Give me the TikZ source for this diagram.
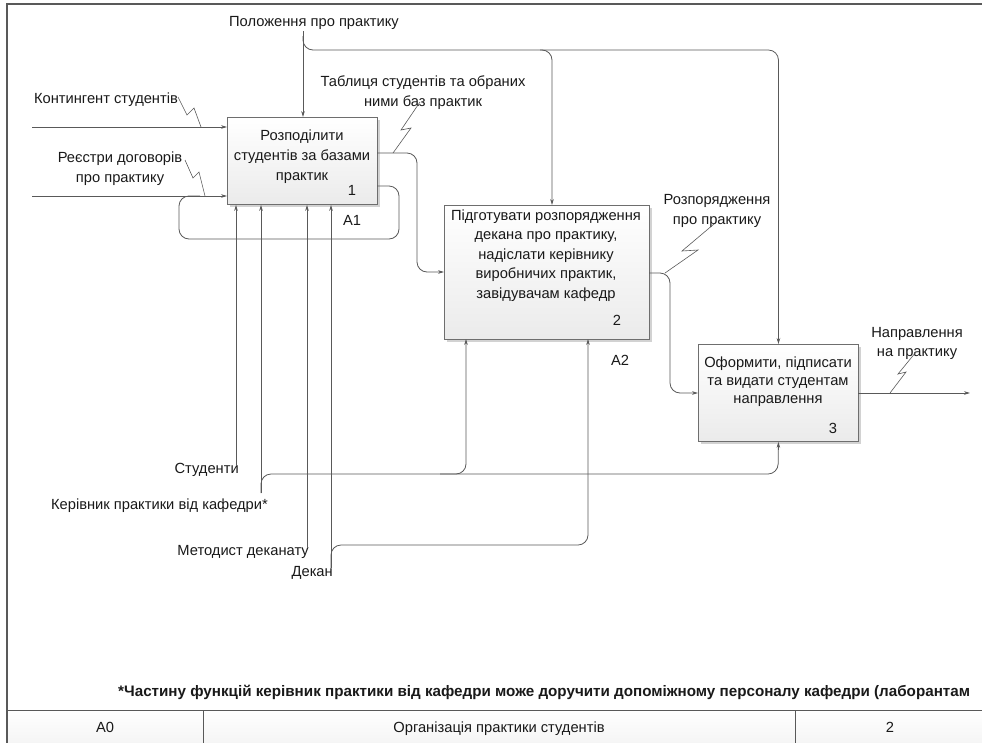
\documentclass[tikz,border=0pt]{standalone}
\usepackage{fontspec}
\setmainfont{Liberation Sans}
\usetikzlibrary{arrows.meta,shadows}
\definecolor{ln}{HTML}{595959}
\definecolor{bx}{HTML}{6E6E6E}
\tikzset{
  conn/.style={draw=ln, line width=0.8pt},
  arr/.style={conn, -{Stealth[length=6pt,width=3.6pt]}},
  proc/.style={draw=bx, line width=0.9pt, anchor=north west, inner sep=0pt,
     top color=white, bottom color=gray!16,
     drop shadow={shadow xshift=2.5pt, shadow yshift=-2.5pt, fill=gray!35, opacity=1}},
  txt/.style={inner sep=0pt, font=\fontsize{14.7}{20}\selectfont, align=center, text=black!90},
  rnd/.style={rounded corners=10pt},
}
\begin{document}
\begin{tikzpicture}[x=1pt,y=-1pt]
\useasboundingbox (0,0) rectangle (982,742);
\begin{scope}
\clip (0,0) rectangle (982,742);
% frame and title block
\shade[top color=white, bottom color=gray!12] (7,710) rectangle (1010,760);
\draw[draw=gray!70!black, line width=1.2pt] (7,4) rectangle (1010,760);
\draw[draw=ln, line width=1pt] (7,710) -- (1010,710);
\draw[draw=ln, line width=1pt] (203,710) -- (203,760);
\draw[draw=ln, line width=1pt] (795,710) -- (795,760);
\node[txt, anchor=west, font=\fontsize{15.2}{18}\selectfont\bfseries] (note) at (118,692)
  {*Частину функцій керівник практики від кафедри може доручити допоміжному персоналу кафедри (лаборантам};
\node[txt, anchor=base] (tA0) at (105,732) {A0};
\node[txt, anchor=base] (tname) at (499,732) {Організація практики студентів};
\node[txt, anchor=base] (tnum) at (890,732) {2};
\end{scope}

% activity boxes
\node[proc, minimum width=150pt, minimum height=87pt] (box1) at (227,117) {};
\node[proc, minimum width=205pt, minimum height=134pt] (box2) at (444,205) {};
\node[proc, minimum width=160pt, minimum height=97pt] (box3) at (698,344) {};

\node[txt, anchor=north] (b1t) at (302,129.5) {Розподілити\\студентів за базами\\практик};
\node[txt, anchor=north, font=\fontsize{14.7}{19.5}\selectfont] (b2t) at (546,209.5) {Підготувати розпорядження\\декана про практику,\\надіслати керівнику\\виробничих практик,\\завідувачам кафедр};
\node[txt, anchor=north, font=\fontsize{14.7}{18}\selectfont] (b3t) at (778,356.5) {Оформити, підписати\\та видати студентам\\направлення};
\node[txt] (n1) at (352,190) {1};
\node[txt] (n2) at (617,320) {2};
\node[txt] (n3) at (833,428) {3};
\node[txt] (a1) at (352,220) {A1};
\node[txt] (a2) at (620,360) {A2};

% labels
\node[txt] (lpol) at (314,23) {Положення про практику};
\node[txt] (lkon) at (106,100) {Контингент студентів};
\node[txt, anchor=north] (lreg) at (120,151.5) {Реєстри договорів\\про практику};
\node[txt, anchor=north] (ltab) at (423,75.5) {Таблиця студентів та обраних\\ними баз практик};
\node[txt, anchor=north] (lroz) at (717,194.5) {Розпорядження\\про практику};
\node[txt, anchor=north, font=\fontsize{14.7}{19}\selectfont] (lnap) at (917,327.5) {Направлення\\на практику};
\node[txt, anchor=east] (lstud) at (239,470) {Студенти};
\node[txt, anchor=east] (lker) at (268,506) {Керівник практики від кафедри*};
\node[txt, anchor=east] (lmet) at (309,552) {Методист деканату};
\node[txt, anchor=east] (ldek) at (333,573) {Декан};

% coordinates
\coordinate (pol) at (303,31);
\coordinate (polb) at (303,36);
\coordinate (in1) at (32,127);
\coordinate (in2) at (32,196);
\coordinate (lp) at (377,186);
\coordinate (o1) at (377,153);
\coordinate (i2) at (444,272);
\coordinate (o2) at (649,273);
\coordinate (i3) at (698,393);
\coordinate (o3) at (858,393);
\coordinate (out3) at (970,393);
\coordinate (stud) at (236,465);
\coordinate (ker) at (261,493);
\coordinate (met) at (307,548);
\coordinate (dek) at (331,568);

% controls from top
\draw[arr] (pol) -- (pol |- box1.north);
\draw[arr, rnd] (polb) |- (552,50) -- (552,205);
\draw[arr, rnd] (540,50) -| (box3.north);

% inputs
\draw[arr] (in1) -- (in1 -| box1.west);
\draw[arr] (in2) -- (in2 -| box1.west);
\draw[conn, rnd] (lp) -- (399,186) -- (399,239) -- (179,239) -- (179,196) -- (200,196);

% outputs
\draw[arr, rnd] (o1) -| (417,272) -- (i2);
\draw[arr, rnd] (o2) -| (670,393) -- (i3);
\draw[arr] (o3) -- (out3);

% mechanisms
\draw[arr] (stud) -- (stud |- box1.south);
\draw[arr] (ker) -- (ker |- box1.south);
\draw[arr] (met) -- (met |- box1.south);
\draw[arr] (dek) -- (dek |- box1.south);
\draw[arr, rnd] (ker) |- (778,474) -- (box3.south);
\draw[arr, rnd] (440,474) -| (466,339);
\draw[arr, rnd] (dek) |- (588,545) -- (588,339);

% squiggles
\draw[conn, line width=0.6pt] (178,97) -- (187,115) -- (194,108) -- (201,127);
\draw[conn, line width=0.6pt] (185,160) -- (193,178) -- (199,172) -- (205,196);
\draw[conn, line width=0.6pt] (393,153) -- (411,128) -- (401,130) -- (420,102);
\draw[conn, line width=0.6pt] (665,273) -- (698,250) -- (682,251) -- (714,224);
\draw[conn, line width=0.6pt] (890,393) -- (906,372) -- (898,374) -- (916,352);
\end{tikzpicture}
\end{document}
